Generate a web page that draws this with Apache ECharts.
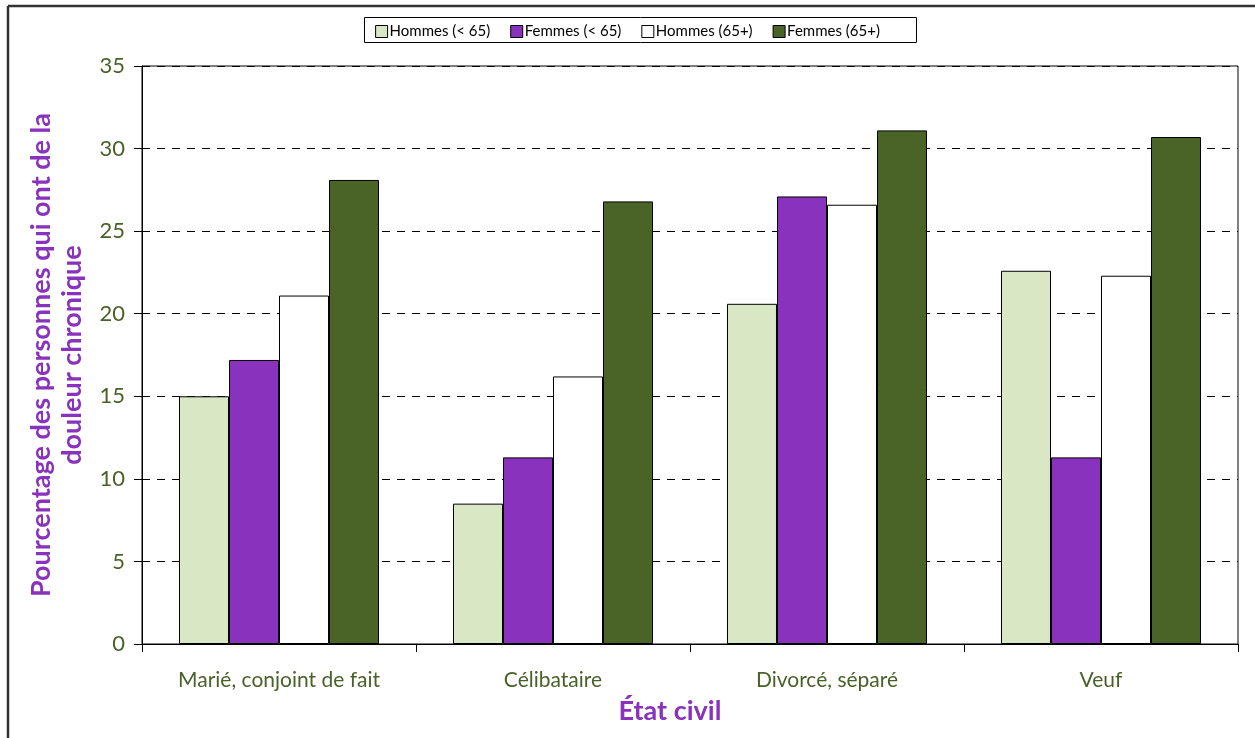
<!DOCTYPE html>
<html>
<head>
<meta charset="utf-8">
<script src="https://cdn.jsdelivr.net/npm/echarts@6/dist/echarts.min.js"></script>
<style>
  html, body { margin: 0; padding: 0; background: #fff; }
  #chart { width: 1255px; height: 738px; }
</style>
</head>
<body>
<div id="chart"></div>
<script>
// Chronic pain prevalence by marital status, sex and age group
const categories = ['Marié, conjoint de fait', 'Célibataire', 'Divorcé, séparé', 'Veuf'];
const seriesNames = ['Hommes (< 65)', 'Femmes (< 65)', 'Hommes (65+)', 'Femmes (65+)'];
const hommesMoins65 = [15.0, 8.5, 20.6, 22.6];
const femmesMoins65 = [17.2, 11.3, 27.1, 11.3];
const hommes65plus = [21.1, 16.2, 26.6, 22.3];
const femmes65plus = [28.1, 26.8, 31.1, 30.7];
const yTicks = [0, 5, 10, 15, 20, 25, 30, 35];

const colors = ['#d9e7c4', '#8832bd', '#ffffff', '#4a6427'];
const values = [hommesMoins65, femmesMoins65, hommes65plus, femmes65plus];
const FONT = 'Lato, "Open Sans", sans-serif';
const TICK_COLOR = '#4a6127';
const TITLE_COLOR = '#8832bd';

const chart = echarts.init(document.getElementById('chart'), null, { renderer: 'canvas' });

chart.setOption({
  backgroundColor: '#ffffff',
  animation: false,
  graphic: [
    // outer frame (top and left edges)
    { type: 'line', shape: { x1: 8, y1: 6, x2: 1255, y2: 6 }, style: { stroke: '#333', lineWidth: 2.5 } },
    { type: 'line', shape: { x1: 8, y1: 6, x2: 8, y2: 738 }, style: { stroke: '#333', lineWidth: 2.5 } },
    // legend frame
    { type: 'rect', shape: { x: 364.5, y: 17.5, width: 552, height: 25 }, style: { fill: 'none', stroke: '#000', lineWidth: 1 }, z: 1 },
    // y-axis title, two lines
    {
      type: 'text', x: 57, y: 355, rotation: Math.PI / 2,
      style: {
        text: 'Pourcentage des personnes qui ont de la\ndouleur chronique',
        fill: TITLE_COLOR, font: 'bold 27px ' + FONT,
        textAlign: 'center', textVerticalAlign: 'middle', lineHeight: 31
      }
    }
  ],
  legend: {
    top: 19, left: 'center',
    itemWidth: 12, itemHeight: 12, itemGap: 20,
    icon: 'rect',
    textStyle: { fontFamily: FONT, fontSize: 15, color: '#000', padding: [0, 0, 0, -3] },
    itemStyle: { borderColor: '#000', borderWidth: 1 },
    data: seriesNames
  },
  grid: {
    left: 142, right: 17, top: 66, bottom: 94,
    show: true, borderColor: '#000', borderWidth: 1, backgroundColor: 'transparent'
  },
  xAxis: {
    type: 'category',
    data: categories,
    name: 'État civil',
    nameLocation: 'middle',
    nameGap: 54,
    nameTextStyle: { fontFamily: FONT, fontSize: 27, fontWeight: 'bold', color: TITLE_COLOR, padding: [0, 40, 0, 0] },
    axisLine: { lineStyle: { color: '#000', width: 1 } },
    axisTick: { show: true, length: 8, alignWithLabel: false, lineStyle: { color: '#000' } },
    axisLabel: { fontFamily: FONT, fontSize: 21, color: TICK_COLOR, margin: 26 }
  },
  yAxis: {
    type: 'value',
    min: yTicks[0], max: yTicks[yTicks.length - 1], interval: 5,
    axisLine: { show: true, lineStyle: { color: '#000', width: 1 } },
    axisTick: { show: true, inside: false, length: 8, lineStyle: { color: '#000' } },
    axisLabel: { fontFamily: FONT, fontSize: 22, color: TICK_COLOR, margin: 17 },
    splitLine: { show: true, lineStyle: { color: '#000', type: [8, 7], width: 1 } }
  },
  series: seriesNames.map((name, i) => ({
    name: name,
    type: 'bar',
    data: values[i],
    barGap: '0%',
    barCategoryGap: '27%',
    itemStyle: { color: colors[i], borderColor: '#000', borderWidth: 1 }
  }))
});
</script>
</body>
</html>
